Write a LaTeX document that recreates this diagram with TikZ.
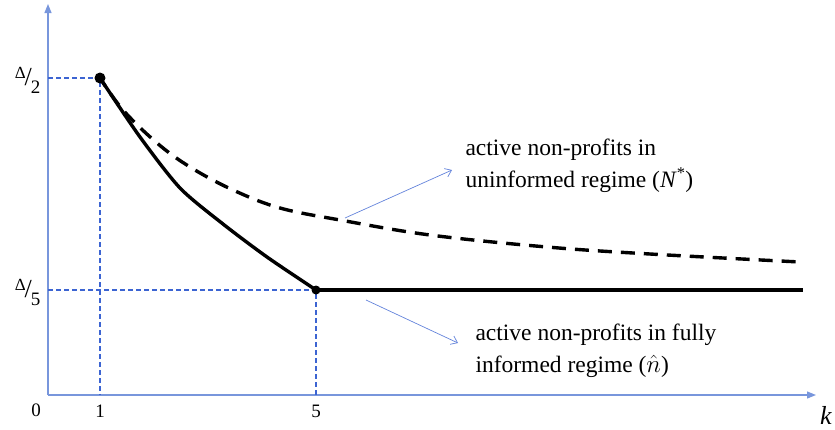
\documentclass[tikz,border=0pt]{standalone}
\usepackage{fontspec}
\setmainfont{Liberation Serif}
\usetikzlibrary{arrows.meta}

\definecolor{axisblue}{RGB}{120,150,220}
\definecolor{guideblue}{RGB}{60,100,210}

\tikzset{
	axis/.style={draw=axisblue, line width=1.2pt, -{Triangle[length=9pt,width=7pt]}},
	guide/.style={draw=guideblue, line width=1.3pt, dash pattern=on 5pt off 3pt},
	curvesolid/.style={draw=black, line width=3.4pt},
	curvedashed/.style={draw=black, line width=3.4pt, dash pattern=on 14pt off 9pt},
	pointer/.style={draw=guideblue!80, line width=0.7pt, -{Straight Barb[length=6pt,width=9pt]}},
	tick/.style={font=\rmfamily\fontsize{19}{19}\selectfont},
	note/.style={font=\rmfamily\fontsize{23.5}{32}\selectfont, align=left, anchor=west}
}

\begin{document}
\begin{tikzpicture}[x=1pt,y=-1pt]
	\useasboundingbox (0,0) rectangle (835,429);
	% axes
	\coordinate (origin) at (48,395);
	\coordinate (ytop) at (48,4);
	\coordinate (xend) at (816,395);
	\draw[axis] (origin) -- (ytop);
	\draw[axis] (origin) -- (xend);
	% points
	\coordinate (half) at (100,78);
	\coordinate (fifth) at (316,290);
	\coordinate (yhalf) at (48,78);
	\coordinate (yfifth) at (48,290);
	\coordinate (xone) at (100,395);
	\coordinate (xfive) at (316,395);
	\draw[guide] (yhalf) -- (half) -- (xone);
	\draw[guide] (yfifth) -- (fifth) -- (xfive);
	% uninformed regime
	\draw[curvedashed, dash phase=4pt] plot[smooth, tension=0.6] coordinates {(100,78) (123,110) (157,143) (190,167) (233,190) (280,208) (340,220) (430,235) (547,247) (650,254) (800,262)};
	% fully informed regime
	\draw[curvesolid] plot[smooth, tension=0.45] coordinates {(100,78) (140,137) (180,188) (223,224) (267,257) (316,290)};
	\draw[curvesolid] (fifth) -- (803,290);
	\fill[black] (half) circle (5.5pt);
	\fill[black] (fifth) circle (4.5pt);
	% labels
	\node[tick] (zero) at (36,410) {0};
	\node[tick] (one) at (100,411) {1};
	\node[tick] (five) at (316,411) {5};
	\node[font=\rmfamily\fontsize{26}{26}\selectfont\itshape] (kl) at (826,415) {k};
	\node[tick, anchor=east] (dhalf) at (44,80) {\raisebox{7pt}{\fontsize{17}{17}\selectfont Δ}\kern-1pt{\fontsize{26}{26}\selectfont /}\kern-1pt\raisebox{-8pt}{\fontsize{19}{19}\selectfont 2}};
	\node[tick, anchor=east] (dfifth) at (44,292) {\raisebox{7pt}{\fontsize{17}{17}\selectfont Δ}\kern-1pt{\fontsize{26}{26}\selectfont /}\kern-1pt\raisebox{-8pt}{\fontsize{19}{19}\selectfont 5}};
	\node[note] (uninf) at (462,166) {active non-profits in\\uninformed regime (\textit{N}\textsuperscript{*})};
	\node[note] (inf) at (472,351) {active non-profits in fully\\informed regime ($\hat{n}$)};
	\coordinate (p1) at (345,218);
	\coordinate (p2) at (452,170);
	\coordinate (p3) at (366,300);
	\coordinate (p4) at (458,343);
	\draw[pointer] (p1) -- (p2);
	\draw[pointer] (p3) -- (p4);
\end{tikzpicture}
\end{document}
